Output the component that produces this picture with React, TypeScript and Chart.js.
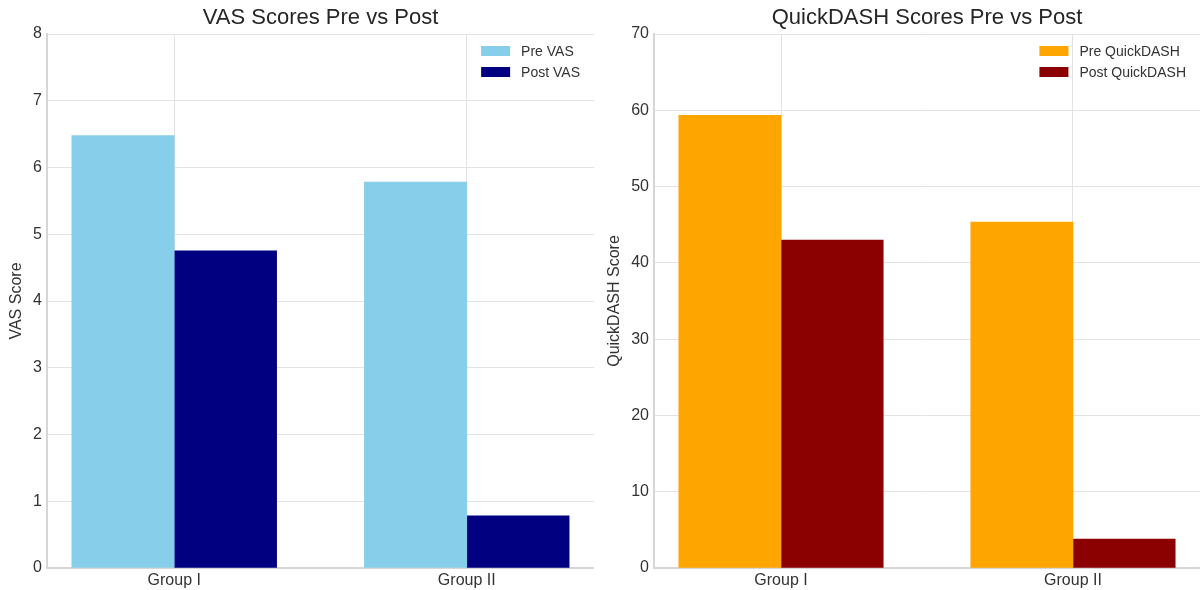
import React, { useEffect, useRef } from "react";
import { Chart, registerables } from "chart.js";

Chart.register(...registerables);

// ---- Data ----
const categories = ["Group I", "Group II"];
const preVAS = [6.48, 5.78];
const postVAS = [4.75, 0.78];
const preQuickDASH = [59.35, 45.35];
const postQuickDASH = [43.0, 3.8];
const vasMax = 8;
const vasStep = 1;
const dashMax = 70;
const dashStep = 10;

const FONT = "'Liberation Sans', Arial, sans-serif";
const TEXT = "#333333";
const GRID = "#e3e3e3";
const SPINE = "#d6d6d6";
const BAR_W = 0.35;

const innerLegend = {
  id: "innerLegend",
  afterDraw(chart: any) {
    const { ctx, chartArea } = chart;
    const ds = chart.data.datasets;
    ctx.save();
    ctx.font = `14px ${FONT}`;
    ctx.textBaseline = "middle";
    ctx.textAlign = "left";
    const textW = Math.max(...ds.map((d: any) => ctx.measureText(d.label).width));
    const boxW = 29;
    const boxH = 10;
    const gap = 11;
    const rowH = 21;
    const x0 = chartArea.right - 14 - textW - gap - boxW;
    let y = chartArea.top + 17;
    ds.forEach((d: any) => {
      ctx.fillStyle = d.backgroundColor;
      ctx.fillRect(x0, y - boxH / 2, boxW, boxH);
      ctx.fillStyle = TEXT;
      ctx.fillText(d.label, x0 + boxW + gap, y + 1);
      y += rowH;
    });
    ctx.restore();
  },
};

function makeConfig(
  title: string,
  yTitle: string,
  pre: number[],
  post: number[],
  preLabel: string,
  postLabel: string,
  preColor: string,
  postColor: string,
  yMax: number,
  yStep: number,
  yAxisWidth: number,
  yTitlePad: number
): any {
  const toPoints = (vals: number[], shift: number) =>
    vals.map((v, i) => ({ x: i + shift, y: v }));
  return {
    type: "bar",
    data: {
      datasets: [
        {
          label: preLabel,
          data: toPoints(pre, -BAR_W / 2),
          backgroundColor: preColor,
          borderWidth: 0,
        },
        {
          label: postLabel,
          data: toPoints(post, BAR_W / 2),
          backgroundColor: postColor,
          borderWidth: 0,
        },
      ],
    },
    options: {
      responsive: false,
      animation: false,
      maintainAspectRatio: false,
      layout: { padding: { left: 0, right: 0, top: 0, bottom: 0 } },
      datasets: {
        bar: { grouped: false, barPercentage: 1, categoryPercentage: 1 },
      },
      plugins: {
        legend: { display: false },
        tooltip: { enabled: false },
        title: {
          display: true,
          text: title,
          fullSize: false,
          color: "#262626",
          font: { family: FONT, size: 22, weight: "normal" },
          padding: { top: 5, bottom: 2.6 },
        },
      },
      scales: {
        x: {
          type: "linear",
          offset: false,
          min: -BAR_W - 0.085,
          max: categories.length - 1 + BAR_W + 0.085,
          afterBuildTicks: (scale: any) => {
            scale.ticks = categories.map((_, i) => ({ value: i }));
          },
          afterFit: (scale: any) => {
            scale.height = 22;
          },
          ticks: {
            callback: (v: number) => categories[Math.round(v)] ?? "",
            color: TEXT,
            font: { family: FONT, size: 16 },
            padding: 3,
            maxRotation: 0,
          },
          grid: { color: GRID, drawTicks: false, lineWidth: 1, offset: false },
          border: { display: true, color: SPINE, width: 2 },
        },
        y: {
          min: 0,
          max: yMax,
          afterFit: (scale: any) => {
            scale.width = yAxisWidth;
          },
          ticks: {
            stepSize: yStep,
            color: TEXT,
            font: { family: FONT, size: 16 },
            padding: 5,
          },
          title: {
            display: true,
            text: yTitle,
            color: TEXT,
            font: { family: FONT, size: 16 },
            padding: { top: yTitlePad, bottom: 0 },
          },
          grid: { color: GRID, drawTicks: false, lineWidth: 1 },
          border: { display: true, color: SPINE, width: 2 },
        },
      },
    },
    plugins: [innerLegend],
  };
}

function BarPanel({ config, width, height }: { config: any; width: number; height: number }) {
  const ref = useRef<HTMLCanvasElement | null>(null);
  useEffect(() => {
    if (!ref.current) return;
    const chart = new Chart(ref.current, config);
    return () => chart.destroy();
  }, [config]);
  return (
    <canvas
      ref={ref}
      width={width}
      height={height}
      style={{ display: "block", width, height }}
    />
  );
}

const vasConfig = makeConfig(
  "VAS Scores Pre vs Post",
  "VAS Score",
  preVAS,
  postVAS,
  "Pre VAS",
  "Post VAS",
  "#87CEEB",
  "#000080",
  vasMax,
  vasStep,
  47,
  7
);

const dashConfig = makeConfig(
  "QuickDASH Scores Pre vs Post",
  "QuickDASH Score",
  preQuickDASH,
  postQuickDASH,
  "Pre QuickDASH",
  "Post QuickDASH",
  "#FFA500",
  "#8B0000",
  dashMax,
  dashStep,
  54,
  5
);

export default function App() {
  return (
    <div
      style={{
        position: "fixed",
        left: 0,
        top: 0,
        width: 1204,
        height: 590,
        display: "flex",
        background: "#ffffff",
      }}
    >
      <div style={{ width: 600, height: 590, paddingRight: 6, boxSizing: "border-box" }}>
        <BarPanel config={vasConfig} width={594} height={590} />
      </div>
      <div style={{ width: 604, height: 590, paddingRight: 4, boxSizing: "border-box" }}>
        <BarPanel config={dashConfig} width={600} height={590} />
      </div>
    </div>
  );
}
